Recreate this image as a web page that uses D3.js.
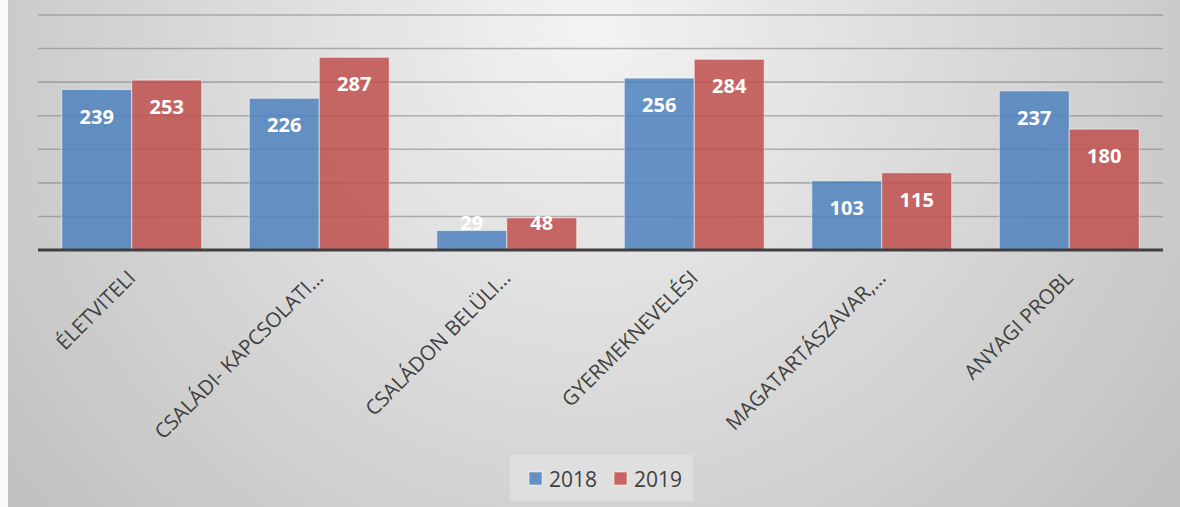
<!DOCTYPE html>
<html>
<head>
<meta charset="utf-8">
<script src="https://cdn.jsdelivr.net/npm/d3@7"></script>
<style>
  body { margin: 0; background: #fafafa; }
  svg { display: block; font-family: "Open Sans", sans-serif; }
</style>
</head>
<body>
<script>
var categories = ["ÉLETVITELI", "CSALÁDI- KAPCSOLATI…", "CSALÁDON BELÜLI…",
                  "GYERMEKNEVELÉSI", "MAGATARTÁSZAVAR,…", "ANYAGI PROBL"];
var series = ["2018", "2019"];
var values2018 = [239, 226, 29, 256, 103, 237];
var values2019 = [253, 287, 48, 284, 115, 180];
var yTicks = [0, 50, 100, 150, 200, 250, 300, 350];
var colors = ["#4F81BD", "#C0504D"];

var width = 1180, height = 507;
var plotLeft = 38, plotRight = 1163, plotTop = 15, plotBottom = 250;

var svg = d3.select("body").append("svg")
    .attr("width", width)
    .attr("height", height);

// background
var defs = svg.append("defs");
var grad = defs.append("radialGradient")
    .attr("id", "bg")
    .attr("gradientUnits", "userSpaceOnUse")
    .attr("cx", 590).attr("cy", 30).attr("r", 720);
grad.append("stop").attr("offset", "0%").attr("stop-color", "#f3f3f3");
grad.append("stop").attr("offset", "100%").attr("stop-color", "#c2c2c2");

svg.append("rect")
    .attr("x", 8).attr("y", 0)
    .attr("width", width - 8).attr("height", height)
    .attr("fill", "url(#bg)");

var x0 = d3.scaleBand()
    .domain(categories)
    .range([plotLeft, plotRight]);

var x1 = d3.scaleBand()
    .domain(series)
    .range([0, x0.bandwidth()])
    .paddingInner(0)
    .paddingOuter(0.34);

var y = d3.scaleLinear()
    .domain([0, 350])
    .range([plotBottom, plotTop]);

// gridlines
svg.append("g")
  .selectAll("line")
  .data(yTicks.slice(1))
  .enter()
  .append("line")
    .attr("x1", plotLeft).attr("x2", plotRight)
    .attr("y1", function(d) { return y(d); })
    .attr("y2", function(d) { return y(d); })
    .attr("stroke", "#858585")
    .attr("stroke-opacity", 0.6)
    .attr("stroke-width", 1.6);

var rows = categories.map(function(c, i) {
  return { cat: c, vals: [values2018[i], values2019[i]] };
});

var groups = svg.append("g")
  .selectAll("g")
  .data(rows)
  .enter()
  .append("g")
    .attr("transform", function(d) { return "translate(" + x0(d.cat) + ",0)"; });

var cells = groups.selectAll("g")
  .data(function(d) {
    return series.map(function(s, j) { return { s: s, v: d.vals[j], j: j }; });
  })
  .enter()
  .append("g");

cells.append("rect")
    .attr("x", function(d) { return x1(d.s); })
    .attr("y", function(d) { return y(d.v); })
    .attr("width", x1.bandwidth())
    .attr("height", function(d) { return y(0) - y(d.v); })
    .attr("fill", function(d) { return colors[d.j]; })
    .attr("fill-opacity", 0.85)
    .attr("stroke", "#ffffff")
    .attr("stroke-opacity", 0.55)
    .attr("stroke-width", 1);

cells.append("text")
    .attr("x", function(d) { return x1(d.s) + x1.bandwidth() / 2; })
    .attr("y", function(d) { return Math.min(y(d.v) + 27, y(0) - 27); })
    .attr("dy", "0.35em")
    .attr("text-anchor", "middle")
    .attr("fill", "#ffffff")
    .attr("font-weight", 700)
    .attr("font-size", "20px")
    .text(function(d) { return d.v; });

// baseline
svg.append("line")
    .attr("x1", plotLeft).attr("x2", plotRight)
    .attr("y1", y(0)).attr("y2", y(0))
    .attr("stroke", "#404040")
    .attr("stroke-width", 3);

// category labels
svg.append("g")
  .selectAll("text")
  .data(categories)
  .enter()
  .append("text")
    .attr("transform", function(d) {
      return "translate(" + (x0(d) + x0.bandwidth() / 2 - 5) + "," + 269 + ") rotate(-45)";
    })
    .attr("text-anchor", "end")
    .attr("dy", "0.7em")
    .attr("fill", "#404040")
    .attr("font-size", "20.5px")
    .text(function(d) { return d; });

// legend
var legend = svg.append("g");
legend.append("rect")
    .attr("x", 510).attr("y", 455)
    .attr("width", 183).attr("height", 46)
    .attr("fill", "#ffffff")
    .attr("fill-opacity", 0.25);

var items = legend.selectAll("g")
  .data(series)
  .enter()
  .append("g")
    .attr("transform", function(d, i) { return "translate(" + (529 + i * 85) + ",472)"; });

items.append("rect")
    .attr("width", 13).attr("height", 13)
    .attr("fill", function(d, i) { return colors[i]; })
    .attr("fill-opacity", 0.85)
    .attr("stroke", "#ffffff")
    .attr("stroke-opacity", 0.55);

items.append("text")
    .attr("x", 20).attr("y", 7)
    .attr("dy", "0.36em")
    .attr("fill", "#404040")
    .attr("font-size", "21px")
    .text(function(d) { return d; });
</script>
</body>
</html>
